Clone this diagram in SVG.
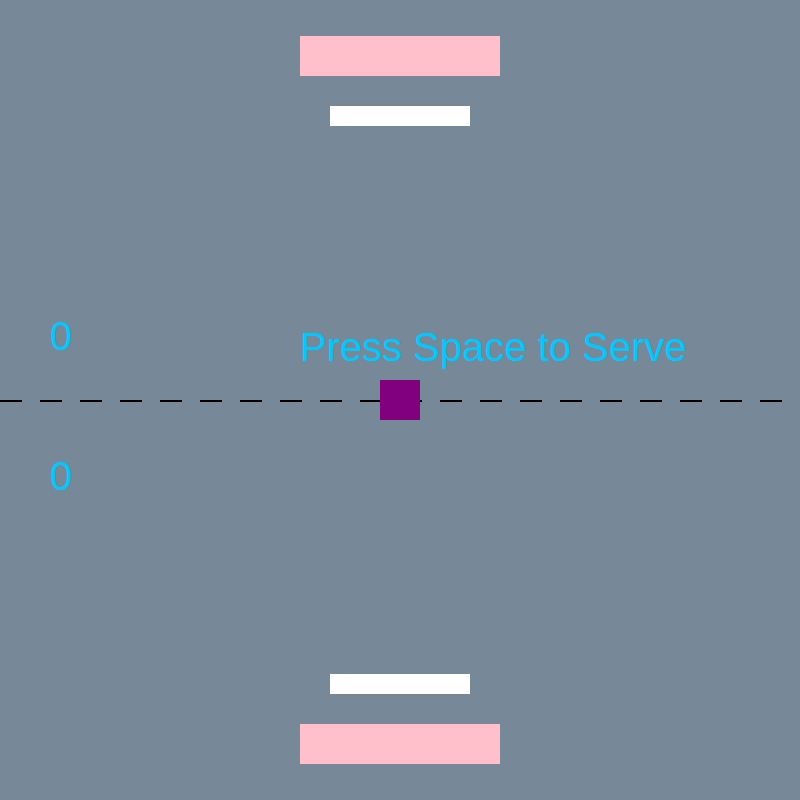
<svg xmlns="http://www.w3.org/2000/svg" width="800" height="800" viewBox="0 0 800 800">
<style>
.pad{fill:#ffc0cb}
.bar{fill:#ffffff}
.score,.msg{font-family:"Liberation Sans",Arial,sans-serif;font-size:40px;fill:#00c8ff}
</style>
<rect x="0" y="0" width="800" height="800" fill="#778899"/>
<line x1="0" y1="401" x2="800" y2="401" stroke="#000000" stroke-width="2" stroke-dasharray="22 18"/>
<g id="top-paddle"><rect class="pad" x="300" y="36" width="200" height="40"/></g>
<g id="top-bar"><rect class="bar" x="330" y="106" width="140" height="20"/></g>
<g id="bottom-bar"><rect class="bar" x="330" y="674" width="140" height="20"/></g>
<g id="bottom-paddle"><rect class="pad" x="300" y="724" width="200" height="40"/></g>
<g id="ball"><rect x="380" y="380" width="40" height="40" fill="#800080"/></g>
<text class="score" x="50" y="350">0</text>
<text class="score" x="50" y="490">0</text>
<text class="msg" x="300" y="361">Press Space to Serve</text>
</svg>
